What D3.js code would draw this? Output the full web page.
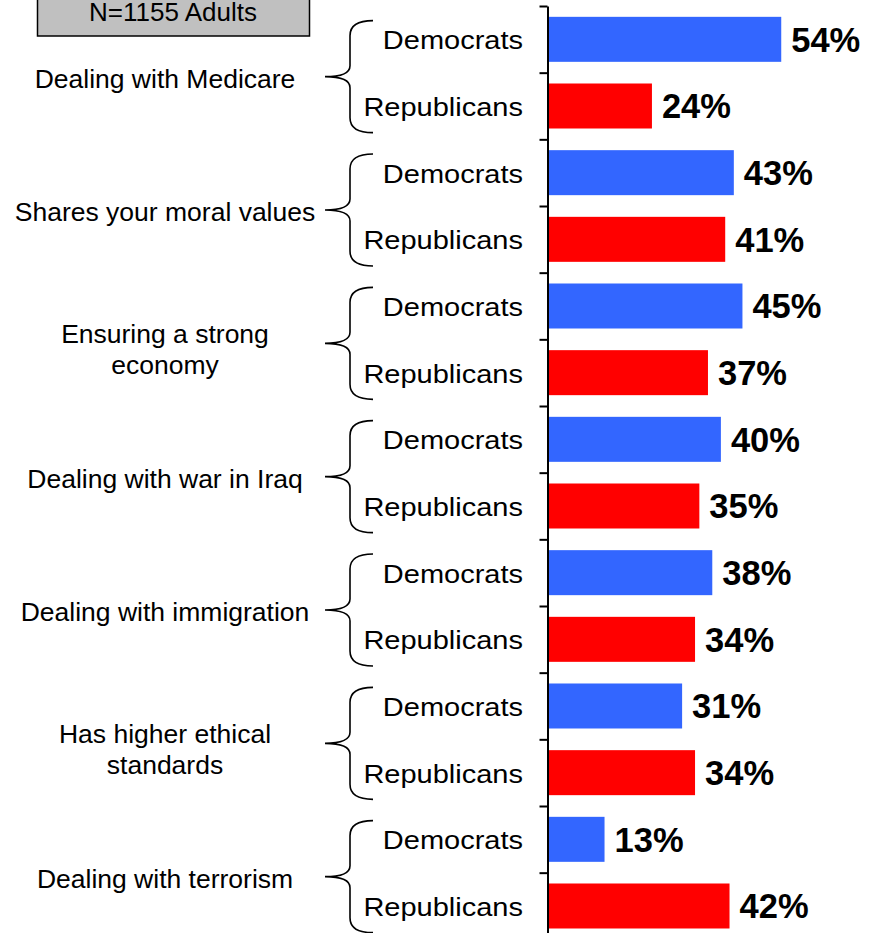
<!DOCTYPE html>
<html>
<head>
<meta charset="utf-8">
<script src="https://cdn.jsdelivr.net/npm/d3@7"></script>
<style>
  html, body { margin: 0; padding: 0; background: #fff; }
  svg { display: block; }
  text { font-family: Arial, "Liberation Sans", sans-serif; fill: #000; }
</style>
</head>
<body>
<svg id="chart" width="880" height="933"></svg>
<script>
// ---- data ----
const categories = [
  "Dealing with Medicare",
  "Shares your moral values",
  "Ensuring a strong\neconomy",
  "Dealing with war in Iraq",
  "Dealing with immigration",
  "Has higher ethical\nstandards",
  "Dealing with terrorism"
];
const parties = ["Democrats", "Republicans"];
const democrats   = [54, 43, 45, 40, 38, 31, 13];
const republicans = [24, 41, 37, 35, 34, 34, 42];
const sampleNote = "N=1155 Adults";
const partyColors = { Democrats: "#3366FF", Republicans: "#FF0000" };

// ---- layout ----
const svg = d3.select("#chart");
const rows = [];
categories.forEach((c, i) => {
  rows.push({ cat: i, party: parties[0], value: democrats[i], key: i + "-D" });
  rows.push({ cat: i, party: parties[1], value: republicans[i], key: i + "-R" });
});

const axisX = 548.5;
const y = d3.scaleBand()
  .domain(rows.map(d => d.key))
  .range([6, 939.33])
  .paddingInner(0.325)
  .paddingOuter(0.1625);

const x = d3.scaleLinear().domain([0, 60]).range([axisX, axisX + 258.6]);

// boundary scale for tick marks between bars
const yb = d3.scaleLinear().domain([0, rows.length]).range(y.range());

// ---- bars ----
svg.append("g").selectAll("rect")
  .data(rows).join("rect")
  .attr("x", x(0))
  .attr("y", d => y(d.key))
  .attr("width", d => x(d.value) - x(0))
  .attr("height", y.bandwidth())
  .attr("fill", d => partyColors[d.party]);

// ---- value labels ----
svg.append("g").selectAll("text")
  .data(rows).join("text")
  .attr("x", d => x(d.value) + 10)
  .attr("y", d => y(d.key) + y.bandwidth() / 2 + 12.5)
  .attr("font-size", 34.5)
  .attr("font-weight", "bold")
  .text(d => d.value + "%");

// ---- axis ----
const axis = d3.axisLeft(yb)
  .tickValues(d3.range(0, rows.length + 1))
  .tickFormat("")
  .tickSize(8)
  .tickSizeOuter(0);
const ag = svg.append("g").attr("transform", `translate(${axisX - 1},0)`).call(axis);
ag.selectAll("path, line").attr("stroke", "#000").attr("stroke-width", 2);

// ---- party sublabels ----
svg.append("g").selectAll("text")
  .data(rows).join("text")
  .attr("transform", d => `translate(523,${y(d.key) + y.bandwidth() / 2 + 10}) scale(1.095,1)`)
  .attr("text-anchor", "end")
  .attr("font-size", 26.5)
  .text(d => d.party);

// ---- braces and category labels ----
const groupMid = i => (y(i + "-D") + y(i + "-R") + y.bandwidth()) / 2 + 4;
const bx = 350, btip = 373, bpoint = 325, bh = 56, bc = 15;
const bracePath = m => {
  const top = m - bh, bot = m + bh;
  return `M${btip},${top} Q${bx},${top} ${bx},${top + bc} ` +
         `L${bx},${m - bc + 4} Q${bx},${m} ${bpoint},${m} ` +
         `Q${bx},${m} ${bx},${m + bc - 4} ` +
         `L${bx},${bot - bc} Q${bx},${bot} ${btip},${bot}`;
};
svg.append("g").selectAll("path")
  .data(categories).join("path")
  .attr("d", (c, i) => bracePath(groupMid(i)))
  .attr("fill", "none")
  .attr("stroke", "#000")
  .attr("stroke-width", 1.6);

const catG = svg.append("g");
categories.forEach((c, i) => {
  const lines = c.split("\n");
  const m = groupMid(i);
  const lh = 31;
  const first = lines.length > 1 ? m : m + 11.5;
  const t = catG.append("text")
    .attr("text-anchor", "middle")
    .attr("font-size", 26.5);
  lines.forEach((l, j) => {
    t.append("tspan").attr("x", 165).attr("y", first + j * lh).text(l);
  });
});

// ---- sample note box ----
svg.append("rect")
  .attr("x", 37.5).attr("y", -3)
  .attr("width", 272).attr("height", 39)
  .attr("fill", "#C0C0C0")
  .attr("stroke", "#000")
  .attr("stroke-width", 1.5);
svg.append("text")
  .attr("x", 173).attr("y", 21)
  .attr("text-anchor", "middle")
  .attr("font-size", 26)
  .text(sampleNote);
</script>
</body>
</html>
